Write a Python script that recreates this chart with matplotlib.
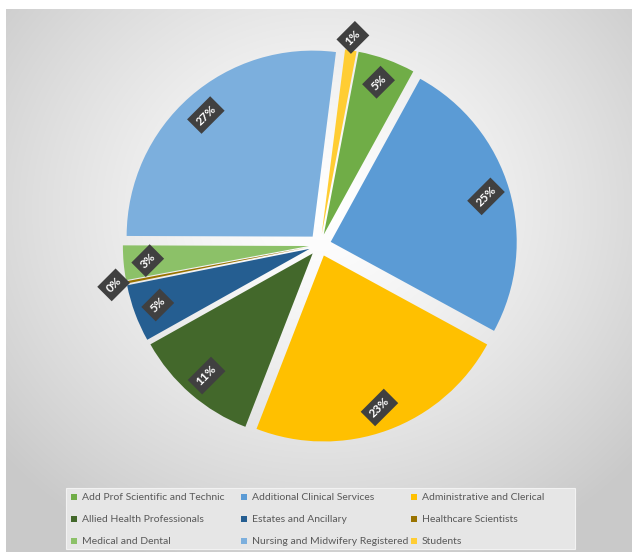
import matplotlib.pyplot as plt
import numpy as np
from matplotlib.patches import Rectangle

categories = ["Add Prof Scientific and Technic", "Additional Clinical Services",
              "Administrative and Clerical", "Allied Health Professionals",
              "Estates and Ancillary", "Healthcare Scientists",
              "Medical and Dental", "Nursing and Midwifery Registered", "Students"]
values = [5.0, 25.0, 23.0, 11.0, 5.0, 0.2, 3.0, 27.0, 1.0]
colors = ["#70AD47", "#5B9BD5", "#FFC000", "#43682B", "#255E91",
          "#997300", "#8CC168", "#7CAFDD", "#FFCD33"]

W, H = 632, 553
fig = plt.figure(figsize=(W / 100, H / 100), dpi=100)

# gradient chart background
bg = fig.add_axes([6 / W, 1 / H, 1 - 6 / W, 1 - 10 / H])
yy, xx = np.mgrid[0:543, 0:626]
d = np.sqrt(((xx - 315) / 420.0) ** 2 + ((yy - 200) / 380.0) ** 2)
d = np.clip(d, 0, 1)
g = 1.0 - 0.21 * d ** 1.3
bg.imshow(np.dstack([g, g, g]), aspect="auto", extent=(0, 1, 0, 1), origin="upper")
bg.axis("off")

# pie axes: center at (320,245) px, radius 186 px
R = 186
half = 250
ax = fig.add_axes([(320 - half) / W, (H - 245 - half) / H, 2 * half / W, 2 * half / H])

start = 79.2
explode = [0.06] * len(values)
wedges, _ = ax.pie(values, colors=colors, startangle=start, counterclock=False,
                   explode=explode, radius=1.0, wedgeprops=dict(linewidth=0))
ax.set_xlim(-half / R, half / R)
ax.set_ylim(-half / R, half / R)
ax.axis("off")

total = sum(values)
cum = 0
for v, e in zip(values, explode):
    mid = start - (cum + v / 2) / total * 360
    cum += v
    pct = v / total * 100
    dist = 0.87 if pct >= 2 else 1.07
    r = e + dist
    x = r * np.cos(np.radians(mid))
    y = r * np.sin(np.radians(mid))
    ax.text(x, y, f"{pct:.0f}%", rotation=45, ha="center", va="center",
            color="white", fontsize=8.5, fontweight="bold", family="Lato",
            bbox=dict(boxstyle="square,pad=0.4", fc="#404040", ec="none"))

# legend drawn by hand, three equal columns filled row-wise like the original
fig.patches.append(Rectangle((66 / W, 1 - 549 / H), 509 / W, 61 / H,
                             transform=fig.transFigure, fc="#e6e6e6",
                             ec="#f2f2f2", lw=0.8, zorder=2))
col_x = [74, 244, 414]
row_y = [497, 519, 541]
for i, (name, c) in enumerate(zip(categories, colors)):
    cx = col_x[i % 3]
    cy = row_y[i // 3]
    fig.patches.append(Rectangle(((cx - 3) / W, 1 - (cy + 3) / H), 6 / W, 6 / H,
                                 transform=fig.transFigure, fc=c, ec="none", zorder=3))
    fig.text((cx + 8) / W, 1 - cy / H, name, ha="left", va="center",
             fontsize=7.5, family="Lato", color="#595959", zorder=4)

plt.savefig("out.png", dpi=100)
